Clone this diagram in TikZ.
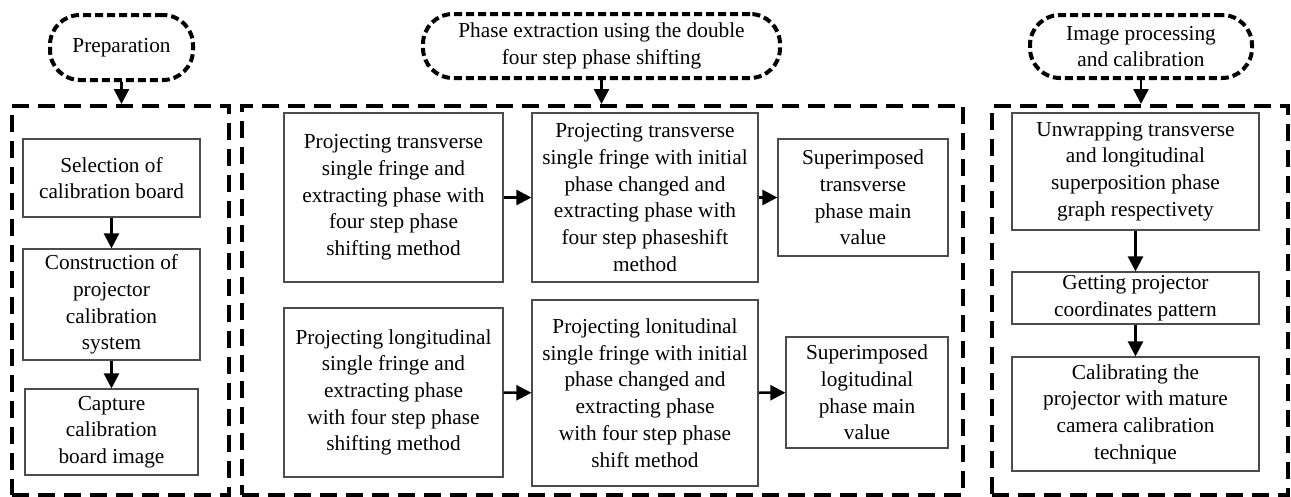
\documentclass[tikz,border=0pt]{standalone}
\usepackage{fontspec}
\setmainfont{Liberation Serif}
\usetikzlibrary{arrows.meta}
\newcommand{\fsz}{\fontsize{21.3}{26.7}\selectfont}
\begin{document}
\begin{tikzpicture}[x=1pt,y=-1pt,
  stepbox/.style={draw=black!70, line width=1.2pt, align=center, inner sep=0pt, font=\fsz},
  groupbox/.style={draw, line width=4pt, dash pattern=on 17pt off 9pt, inner sep=0pt},
  headbox/.style={draw, line width=4pt, dash pattern=on 8pt off 4pt, rounded corners=30pt, align=center, inner sep=0pt, font=\fsz},
  arr/.style={-{Triangle[length=15pt,width=15pt]}, line width=2.5pt}]
\useasboundingbox (0,0) rectangle (1291,496);
% group boxes
\node[groupbox, minimum width=217pt, minimum height=389pt] (G1) at (120.5,300.5) {};
\node[groupbox, minimum width=721pt, minimum height=389pt] (G2) at (602.5,300.5) {};
\node[groupbox, minimum width=296pt, minimum height=389pt] (G3) at (1140,300.5) {};
% header ellipses
\node[headbox, minimum width=143pt, minimum height=65pt] (E1) at (121.5,47.5) {Preparation};
\node[headbox, minimum width=357pt, minimum height=64pt] (E2) at (601.5,46) {Phase extraction using the double\\four step phase shifting};
\node[headbox, minimum width=222pt, minimum height=63pt] (E3) at (1141,46.5) {Image processing\\and calibration};
% left column
\node[stepbox, minimum width=177pt, minimum height=78pt] (P1) at (111.5,178) {Selection of\\calibration board};
\node[stepbox, minimum width=177pt, minimum height=111pt] (P2) at (111.5,304.5) {Construction of\\projector\\calibration\\system};
\node[stepbox, minimum width=173pt, minimum height=86pt] (P3) at (111.5,432) {Capture\\calibration\\board image};
% middle
\node[stepbox, minimum width=219pt, minimum height=169pt] (A1) at (393.5,197.5) {Projecting transverse\\single fringe and\\extracting phase with\\four step phase\\shifting method};
\node[stepbox, minimum width=226pt, minimum height=169pt] (A2) at (645,197.5) {Projecting transverse\\single fringe with initial\\phase changed and\\extracting phase with\\four step phaseshift\\method};
\node[stepbox, minimum width=170pt, minimum height=117pt] (A3) at (863,197.5) {Superimposed\\transverse\\phase main\\value};
\node[stepbox, minimum width=219pt, minimum height=169pt] (B1) at (393.5,392.5) {Projecting longitudinal\\single fringe and\\extracting phase\\with four step phase\\shifting method};
\node[stepbox, minimum width=226pt, minimum height=186pt] (B2) at (645,393) {Projecting lonitudinal\\single fringe with initial\\phase changed and\\extracting phase\\with four step phase\\shift method};
\node[stepbox, minimum width=162pt, minimum height=111pt] (B3) at (867,392.5) {Superimposed\\logitudinal\\phase main\\value};
% right
\node[stepbox, minimum width=247pt, minimum height=117pt] (C1) at (1135.5,171.5) {Unwrapping transverse\\and longitudinal\\superposition phase\\graph respectivety};
\node[stepbox, minimum width=247pt, minimum height=52pt] (C2) at (1135.5,298) {Getting projector\\coordinates pattern};
\node[stepbox, minimum width=247pt, minimum height=114pt] (C3) at (1135.5,414) {Calibrating the\\projector with mature\\camera calibration\\technique};
% arrows
\draw[arr] (E1.south) -- (E1.south |- G1.north);
\draw[arr] (E2.south) -- (E2.south |- G2.north);
\draw[arr] (E3.south) -- (E3.south |- G3.north);
\draw[arr] (P1) -- (P2);
\draw[arr] (P2) -- (P3);
\draw[arr] (A1) -- (A2);
\draw[arr] (A2) -- (A3);
\draw[arr] (B1) -- (B2);
\draw[arr] (B2) -- (B3);
\draw[arr] (C1) -- (C2);
\draw[arr] (C2) -- (C3);
\end{tikzpicture}
\end{document}
